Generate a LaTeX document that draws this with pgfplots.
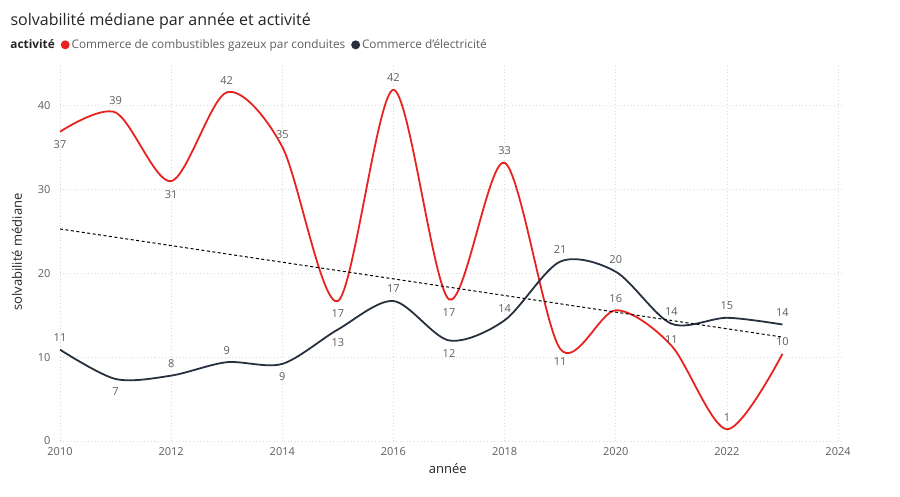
\documentclass[border=0pt]{standalone}
\usepackage{fontspec}
\setmainfont{Open Sans}
\usepackage{pgfplots}
\usepackage{pgfplotstable}
\pgfplotsset{compat=1.18}

\definecolor{gazred}{HTML}{E8231F}
\definecolor{elecnavy}{HTML}{27303F}
\definecolor{labgray}{HTML}{605E5C}
\definecolor{titledark}{HTML}{252423}
\definecolor{gridgray}{HTML}{DADADA}

% x = année, y = solvabilité médiane, lbl = étiquette, dy = décalage de l'étiquette
\pgfplotstableread{
x    y    lbl dy
2010 36.9 37  -13
2011 39.2 39   12
2012 31.0 31  -13
2013 41.6 42   12
2014 35.1 35   12
2015 16.7 17  -13
2016 41.9 42   12
2017 16.9 17  -13
2018 33.2 33   12
2019 11.0 11  -13
2020 15.6 16   12
2021 11.4 11    6
2022  1.4  1   12
2023 10.4 10   12
}\gaz

\pgfplotstableread{
x    y    lbl dy
2010 10.9 11   12
2011  7.4  7  -13
2012  7.8  8   12
2013  9.4  9   12
2014  9.2  9  -13
2015 13.3 13  -13
2016 16.7 17   12
2017 12.0 12  -13
2018 14.4 14   12
2019 21.4 21   12
2020 20.2 20   12
2021 14.0 14   12
2022 14.7 15   12
2023 13.9 14   12
}\elec

\pgfplotsset{
  etiquettes/.style={
    nodes near coords,
    point meta=explicit symbolic,
    visualization depends on={\thisrow{dy} \as \labdy},
    nodes near coords style={anchor=center, yshift=\labdy pt, font=\fontsize{11}{13}\selectfont, text=labgray},
  },
}

\begin{document}
\begin{tikzpicture}
\useasboundingbox (0,0) rectangle (900pt,496pt);
\node[anchor=west, font=\fontsize{16}{18}\selectfont, text=titledark] at (7pt,475pt) {solvabilité médiane par année et activité};
\begin{axis}[
    at={(60pt,55pt)}, anchor=south west,
    scale only axis,
    width=783.6pt, height=378pt,
    xmin=2010, xmax=2024.1,
    ymin=0, ymax=45.1,
    xtick={2010,2012,...,2024},
    ytick={0,10,20,30,40},
    xticklabel style={/pgf/number format/1000 sep={}, yshift=-3pt},
    yticklabel style={xshift=-6pt},
    /pgf/number format/assume math mode=true,
    tick label style={font=\fontsize{11}{13}\selectfont, text=labgray},
    major tick length=0pt,
    axis line style={draw=none},
    grid=major,
    major grid style={gridgray, line width=0.7pt, dash pattern=on 1pt off 2.5pt},
    xlabel={année},
    ylabel={solvabilité médiane},
    label style={font=\fontsize{13}{15}\selectfont, text=titledark},
    xlabel style={at={(axis description cs:0.495,-0.074)}, anchor=center},
    ylabel style={at={(axis description cs:-0.055,0.5)}, anchor=center},
    clip=false,
    legend columns=-1,
    legend style={at={(axis description cs:-0.066,1.048)}, anchor=west, draw=none, fill=none,
        font=\fontsize{11.8}{14}\selectfont, text=labgray,
        /tikz/every even column/.append style={column sep=4pt},
        inner sep=0pt},
    legend image code/.code={\fill[#1] (4pt,0pt) circle (3.5pt);},
]
\addlegendimage{empty legend}
\addlegendentry{\textcolor{titledark}{\bfseries activité}}
\addplot[color=gazred, line width=1.8pt, smooth, mark=none, etiquettes] table[x=x, y=y, meta=lbl] {\gaz};
\addlegendentry{Commerce de combustibles gazeux par conduites}
\addplot[color=elecnavy, line width=1.8pt, smooth, mark=none, etiquettes] table[x=x, y=y, meta=lbl] {\elec};
\addlegendentry{Commerce d'électricité}
\addplot[forget plot, black, line width=1pt, dash pattern=on 3pt off 2.5pt] coordinates {(2010,25.3) (2023,12.4)};
\end{axis}
\end{tikzpicture}
\end{document}
